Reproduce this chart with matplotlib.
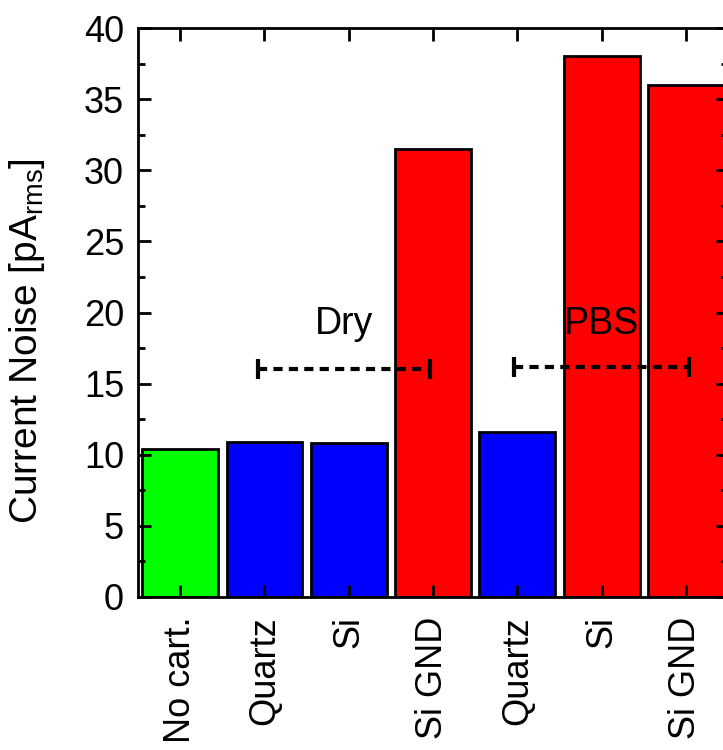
import numpy as np
import matplotlib
matplotlib.use("Agg")
import matplotlib.pyplot as plt
from matplotlib.ticker import MultipleLocator

labels = ["No cart.", "Quartz", "Si", "Si GND", "Quartz", "Si", "Si GND"]
noise = [10.4, 10.9, 10.8, 31.5, 11.6, 38.0, 36.0]
colors = ["#00ff00", "#0000ff", "#0000ff", "#ff0000", "#0000ff", "#ff0000", "#ff0000"]

groups = ["Dry", "PBS"]
group_center = [1.94, 5.0]
group_half = [1.02, 1.04]
group_y = [16.0, 16.15]
group_text_y = [19.2, 19.2]

plt.rcParams["font.family"] = ["Liberation Sans", "DejaVu Sans"]

fig = plt.figure(figsize=(7.23, 7.5), dpi=100)
ax = fig.add_axes([138 / 723, 153 / 750, 590 / 723, 569 / 750])

x = np.arange(len(labels))
ax.bar(x, noise, width=0.9, color=colors, edgecolor="black", linewidth=2)

for name, cx, hw, gy, ty in zip(groups, group_center, group_half, group_y, group_text_y):
    eb = ax.errorbar(cx, gy, xerr=hw, fmt="none", ecolor="black",
                     elinewidth=3, capsize=7, capthick=3)
    eb[2][0].set_linestyle((0, (2.2, 1.5)))
    ax.text(cx, ty, name, ha="center", va="center", fontsize=27)

ax.set_xlim(-0.5, 6.5)
ax.set_ylim(0, 40)
ax.set_xticks(x)
ax.set_xticklabels(labels, rotation=90, fontsize=26)
ax.yaxis.set_major_locator(MultipleLocator(5))
ax.yaxis.set_minor_locator(MultipleLocator(2.5))
ax.tick_params(axis="y", which="major", direction="in", length=9, width=2,
               labelsize=26, right=True, pad=10)
ax.tick_params(axis="y", which="minor", direction="in", length=5, width=2, right=True)
ax.tick_params(axis="x", direction="in", length=9, width=2, top=True, pad=14)
for s in ax.spines.values():
    s.set_linewidth(2)

ax.set_ylabel("Current Noise [pA$_\\mathregular{rms}$]", fontsize=28)
ax.yaxis.set_label_coords(-0.155, 0.45)

fig.savefig("out.png", dpi=100)
